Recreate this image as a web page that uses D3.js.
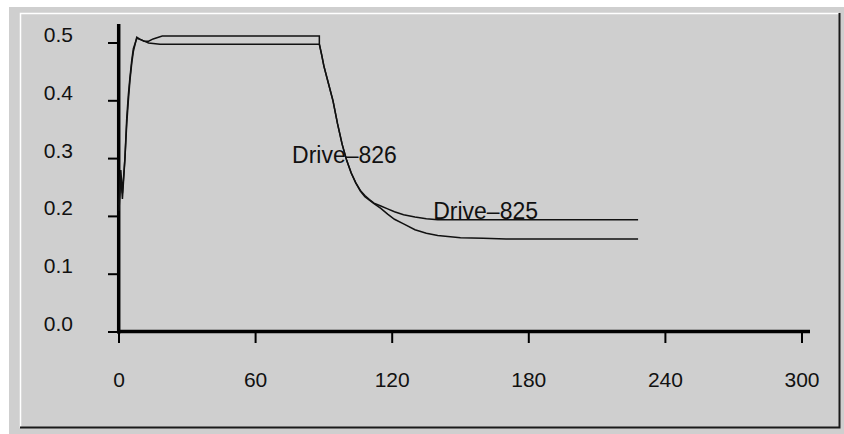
<!DOCTYPE html>
<html>
<head>
<meta charset="utf-8">
<script src="https://cdn.jsdelivr.net/npm/d3@7"></script>
<style>
  html, body { margin: 0; padding: 0; background: #fff; }
  svg text { font-family: "Liberation Sans", Arial, sans-serif; fill: #111; }
</style>
</head>
<body>
<div id="container"></div>
<script>
"use strict";

// axis ticks
const xTicks = [0, 60, 120, 180, 240, 300];
const yTicks = [0.0, 0.1, 0.2, 0.3, 0.4, 0.5];

// Drive-825 (upper tail)
const time825 = [0, 0.8, 1.5, 2.6, 3.4, 4.1, 4.8, 5.6, 6.3, 7.8, 9, 11, 13, 15, 19, 88, 88, 89, 90, 92, 94, 96, 98, 100, 102, 104, 106, 108, 110, 112, 115, 118, 121, 125, 130, 135, 140, 150, 228];
const value825 = [0.21, 0.27, 0.23, 0.30, 0.36, 0.40, 0.435, 0.465, 0.485, 0.51, 0.507, 0.503, 0.503, 0.507, 0.512, 0.512, 0.498, 0.48, 0.46, 0.43, 0.40, 0.36, 0.325, 0.297, 0.275, 0.258, 0.245, 0.236, 0.229, 0.223, 0.218, 0.213, 0.208, 0.203, 0.199, 0.196, 0.194, 0.194, 0.194];

// Drive-826 (lower tail)
const time826 = [0, 0.8, 1.5, 2.6, 3.4, 4.1, 4.8, 5.6, 6.3, 7.8, 10, 13, 18, 88, 89, 90, 92, 94, 96, 98, 100, 102, 104, 106, 108, 110, 112, 115, 118, 121, 125, 130, 135, 140, 150, 160, 170, 228];
const value826 = [0.22, 0.28, 0.24, 0.30, 0.37, 0.41, 0.44, 0.47, 0.49, 0.508, 0.505, 0.500, 0.498, 0.498, 0.48, 0.46, 0.43, 0.40, 0.36, 0.325, 0.297, 0.275, 0.258, 0.244, 0.234, 0.228, 0.222, 0.214, 0.204, 0.195, 0.187, 0.177, 0.171, 0.167, 0.163, 0.162, 0.161, 0.161];

const seriesLabels = ["Drive\u2013825", "Drive\u2013826"];
const labelAt = [{ t: 138, v: 0.196 }, { t: 76, v: 0.293 }];

const width = 844;
const height = 434;

const svg = d3.select("#container")
  .append("svg")
  .attr("width", width)
  .attr("height", height);

// panel and bevelled frame
svg.append("rect")
  .attr("x", 9).attr("y", 7)
  .attr("width", width - 9).attr("height", height - 7)
  .attr("fill", "#cfcfcf");

svg.append("path")
  .attr("d", "M20.5,428 V13.5 H839")
  .attr("fill", "none").attr("stroke", "#fff").attr("stroke-width", 1.5);

svg.append("path")
  .attr("d", "M20,427.5 H839.5 V13")
  .attr("fill", "none").attr("stroke", "#1a1a1a").attr("stroke-width", 2);

const x = d3.scaleLinear().domain([0, 300]).range([119, 802]);
const y = d3.scaleLinear().domain([0, 0.5]).range([332, 43]);

// y axis
const yAxis = svg.append("g");
yAxis.append("line")
  .attr("x1", 118.7).attr("x2", 118.7)
  .attr("y1", 24).attr("y2", 333.5)
  .attr("stroke", "#000").attr("stroke-width", 3.5);

yAxis.selectAll("ytick").data(yTicks)
  .enter()
  .append("line")
  .attr("x1", 108).attr("x2", 119)
  .attr("y1", (d) => y(d)).attr("y2", (d) => y(d))
  .attr("stroke", "#000").attr("stroke-width", 2);

yAxis.selectAll("ylabel").data(yTicks)
  .enter()
  .append("text")
  .attr("x", 73)
  .attr("y", (d) => y(d) - 1)
  .attr("text-anchor", "end")
  .style("font-size", "21px")
  .text((d) => d.toFixed(1));

// x axis
const xAxis = svg.append("g");
xAxis.append("line")
  .attr("x1", 117).attr("x2", 810)
  .attr("y1", 331.5).attr("y2", 331.5)
  .attr("stroke", "#000").attr("stroke-width", 3.5);

xAxis.selectAll("xtick").data(xTicks)
  .enter()
  .append("line")
  .attr("x1", (d) => x(d)).attr("x2", (d) => x(d))
  .attr("y1", 332).attr("y2", 343)
  .attr("stroke", "#000").attr("stroke-width", 2);

xAxis.selectAll("xlabel").data(xTicks)
  .enter()
  .append("text")
  .attr("x", (d) => x(d))
  .attr("y", 387)
  .attr("text-anchor", "middle")
  .style("font-size", "21px")
  .text((d) => d);

// curves
const line = d3.line()
  .x((d) => x(d[0]))
  .y((d) => y(d[1]));

const series = [
  d3.zip(time825, value825),
  d3.zip(time826, value826)
];

svg.selectAll("curves").data(series)
  .enter()
  .append("path")
  .attr("d", line)
  .attr("fill", "none")
  .attr("stroke", "#111")
  .attr("stroke-width", 1.5);

svg.selectAll("curvelabels").data(labelAt)
  .enter()
  .append("text")
  .attr("x", (d) => x(d.t))
  .attr("y", (d) => y(d.v))
  .style("font-size", "23px")
  .text((d, i) => seriesLabels[i]);
</script>
</body>
</html>
